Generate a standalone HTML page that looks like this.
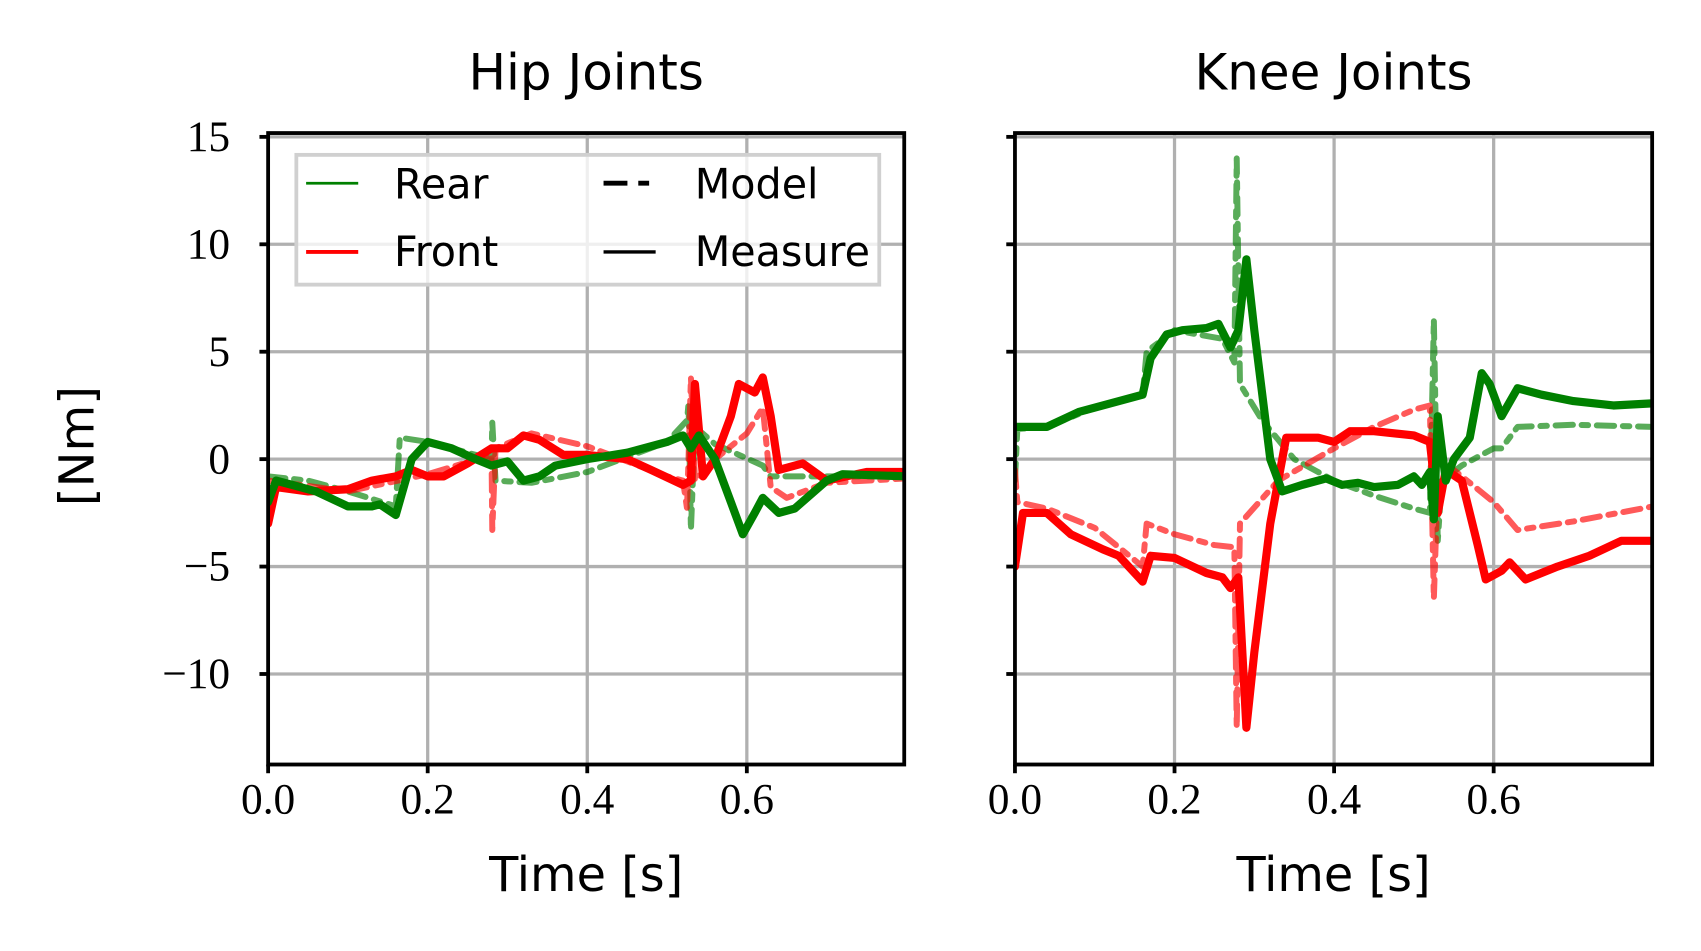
<!DOCTYPE html>
<html><head><meta charset="utf-8"><style>
html,body{margin:0;padding:0;background:#fff;}
svg{display:block;}
.tk{font-family:"Liberation Serif",serif;fill:#000;}
.sn{font-family:"DejaVu Sans","Liberation Sans",sans-serif;fill:#000;}
</style></head><body>
<svg id="s" width="1701" height="951" viewBox="0 0 1567 872" preserveAspectRatio="none" xmlns="http://www.w3.org/2000/svg">
<rect width="1567" height="872" fill="#fff"/>
<g id="g"></g>
</svg>
<script>
const NS="http://www.w3.org/2000/svg";const G=document.getElementById('g');
function el(t,a,txt,par){const e=document.createElementNS(NS,t);for(const k in a)e.setAttribute(k,a[k]);if(txt!==undefined&&txt!==null)e.textContent=txt;(par||G).appendChild(e);return e;}
const Y=v=>421-19.7*v;
const panels=[{x0:247,x1:833,title:"Hip Joints"},{x0:935,x1:1522,title:"Knee Joints"}];
const data={
hip:{
rm:[[0,-2],[0.01,-1],[0.03,-1.2],[0.06,-1.5],[0.1,-2.2],[0.13,-2.2],[0.14,-2.1],[0.16,-2.6],[0.18,0],[0.2,0.8],[0.23,0.5],[0.26,0],[0.28,-0.3],[0.3,-0.1],[0.32,-1],[0.34,-0.8],[0.36,-0.3],[0.4,0],[0.45,0.3],[0.5,0.8],[0.52,1.1],[0.53,0.5],[0.54,1.1],[0.56,0],[0.58,-2],[0.595,-3.5],[0.61,-2.5],[0.62,-1.8],[0.64,-2.5],[0.66,-2.3],[0.7,-1],[0.72,-0.7],[0.8,-0.8]],
rd:[[0,-0.8],[0.05,-1],[0.1,-1.5],[0.16,-2.2],[0.165,1],[0.2,0.8],[0.28,0],[0.281,1.7],[0.285,-1],[0.33,-1.1],[0.4,-0.6],[0.5,0.8],[0.525,1.8],[0.527,2.6],[0.53,-3.3],[0.535,1.5],[0.56,0.7],[0.62,-0.3],[0.63,-0.8],[0.8,-0.8]],
fm:[[0,-3],[0.01,-1.3],[0.05,-1.5],[0.1,-1.4],[0.13,-1],[0.16,-0.8],[0.18,-0.5],[0.2,-0.8],[0.22,-0.8],[0.25,-0.2],[0.28,0.5],[0.3,0.5],[0.32,1.1],[0.34,0.9],[0.37,0.2],[0.4,0.2],[0.45,0],[0.48,-0.5],[0.52,-1.2],[0.53,-1],[0.535,3.5],[0.545,-0.8],[0.56,0],[0.58,2],[0.59,3.5],[0.61,3.1],[0.62,3.8],[0.63,2],[0.64,-0.5],[0.67,-0.2],[0.7,-1],[0.75,-0.6],[0.8,-0.6]],
fd:[[0,-1],[0.1,-1.5],[0.2,-0.7],[0.28,0.2],[0.281,-3.3],[0.285,0.5],[0.33,1.2],[0.4,0.6],[0.5,-0.8],[0.52,-1],[0.525,-2.3],[0.53,3.8],[0.535,-1],[0.56,0],[0.6,1.2],[0.62,2.4],[0.63,-1.3],[0.65,-1.8],[0.7,-1.1],[0.8,-0.9]]},
knee:{
rm:[[0,1.5],[0.04,1.5],[0.08,2.2],[0.12,2.6],[0.16,3],[0.17,4.7],[0.19,5.8],[0.21,6],[0.24,6.1],[0.255,6.3],[0.27,5.2],[0.28,6],[0.29,9.3],[0.3,6],[0.32,0],[0.335,-1.5],[0.36,-1.2],[0.39,-0.9],[0.41,-1.2],[0.43,-1.1],[0.45,-1.3],[0.48,-1.2],[0.5,-0.8],[0.51,-1.2],[0.52,-0.6],[0.525,-2.8],[0.53,2],[0.54,-1],[0.55,0],[0.57,1],[0.585,4],[0.595,3.5],[0.61,2],[0.63,3.3],[0.66,3],[0.7,2.7],[0.75,2.5],[0.8,2.6]],
rd:[[0,-1],[0.003,1.4],[0.04,1.5],[0.1,2.4],[0.16,3],[0.165,5],[0.2,6],[0.26,5.6],[0.275,4.5],[0.278,14],[0.282,3.5],[0.31,1.8],[0.35,0],[0.4,-1],[0.45,-1.7],[0.5,-2.3],[0.52,-2.5],[0.525,6.5],[0.53,-3.8],[0.535,-1],[0.56,-0.3],[0.6,0.5],[0.61,0.5],[0.63,1.5],[0.7,1.6],[0.8,1.5]],
fm:[[0,-5],[0.01,-2.5],[0.04,-2.5],[0.07,-3.5],[0.11,-4.2],[0.13,-4.5],[0.16,-5.7],[0.17,-4.5],[0.2,-4.6],[0.24,-5.3],[0.26,-5.5],[0.27,-6],[0.28,-5.5],[0.29,-12.5],[0.3,-9],[0.32,-3],[0.34,1],[0.38,1],[0.4,0.8],[0.42,1.3],[0.45,1.3],[0.5,1.1],[0.52,0.8],[0.53,-2.5],[0.54,-0.5],[0.56,-1],[0.58,-4],[0.59,-5.6],[0.61,-5.2],[0.62,-4.8],[0.64,-5.6],[0.68,-5],[0.72,-4.5],[0.76,-3.8],[0.8,-3.8]],
fd:[[0,-0.5],[0.003,-2],[0.04,-2.3],[0.1,-3.2],[0.16,-5],[0.165,-3],[0.2,-3.5],[0.25,-4],[0.275,-4.1],[0.278,-12.5],[0.282,-3],[0.33,-1],[0.4,0.5],[0.45,1.5],[0.5,2.3],[0.52,2.5],[0.525,-6.5],[0.53,-1],[0.55,-0.5],[0.6,-2],[0.63,-3.3],[0.7,-2.9],[0.8,-2.2]]}};
const keys=['hip','knee'];
const defs=el('defs',{});
panels.forEach((p,i)=>{
 const X=t=>p.x0+735*t;
 const cp=el('clipPath',{id:'c'+i},null,defs);
 el('rect',{x:p.x0,y:122,width:p.x1-p.x0,height:579},null,cp);
 [0.2,0.4,0.6].forEach(t=>el('line',{x1:X(t),x2:X(t),y1:122,y2:701,stroke:'#b0b0b0','stroke-width':3}));
 [15,10,5,0,-5,-10].forEach(v=>el('line',{x1:p.x0,x2:p.x1,y1:Y(v),y2:Y(v),stroke:'#b0b0b0','stroke-width':3}));
 const d=data[keys[i]];
 const path=(arr)=>arr.map((q,j)=>(j?'L':'M')+X(q[0]).toFixed(1)+' '+Y(q[1]).toFixed(1)).join('');
 const g=el('g',{'clip-path':`url(#c${i})`});
 const add=(arr,col,dash)=>{const a={d:path(arr),fill:'none',stroke:col,'stroke-width':dash?5.5:7.5,'stroke-linejoin':'round','stroke-linecap':'round'};if(dash){a['stroke-dasharray']='16 8 6 8';a.opacity='0.65';}el('path',a,null,g);};
 add(d.rd,'#008000',1);add(d.fd,'#ff0000',1);add(d.fm,'#ff0000',0);add(d.rm,'#008000',0);
 el('rect',{x:p.x0,y:122,width:p.x1-p.x0,height:579,fill:'none',stroke:'#000','stroke-width':3.5});
 [15,10,5,0,-5,-10].forEach(v=>{el('line',{x1:p.x0-8,x2:p.x0,y1:Y(v),y2:Y(v),stroke:'#000','stroke-width':3.5});
   if(i==0)el('text',{x:212,y:Y(v)+13,'text-anchor':'end',class:'tk','font-size':'40'},v<0?'\u2212'+(-v):String(v));});
 [0,0.2,0.4,0.6].forEach(t=>{el('line',{x1:X(t),x2:X(t),y1:701,y2:709,stroke:'#000','stroke-width':3.5});
   el('text',{x:X(t),y:746,'text-anchor':'middle',class:'tk','font-size':'40'},t.toFixed(1));});
 el('text',{x:(p.x0+p.x1)/2,y:82,'text-anchor':'middle',class:'sn','font-size':'46'},p.title);
 el('text',{x:(p.x0+p.x1)/2,y:817,'text-anchor':'middle',class:'sn','font-size':'44'},'Time [s]');
});
el('text',{x:0,y:0,transform:'translate(86,409) rotate(-90)','text-anchor':'middle',class:'sn','font-size':'44'},'[Nm]');
el('rect',{x:273,y:142,width:537,height:119,fill:'rgba(255,255,255,0.8)',stroke:'#d0d0d0','stroke-width':3.5});
el('line',{x1:282,x2:330,y1:168,y2:168,stroke:'#008000','stroke-width':2.5});
el('line',{x1:282,x2:330,y1:231,y2:231,stroke:'#ff0000','stroke-width':3.5});
el('line',{x1:556,x2:604,y1:168,y2:168,stroke:'#000','stroke-width':4.5,'stroke-dasharray':'22 10 10 10'});
el('line',{x1:556,x2:604,y1:231,y2:231,stroke:'#000','stroke-width':3});
el('text',{x:363,y:182,class:'sn','font-size':'38'},'Rear');
el('text',{x:363,y:244,class:'sn','font-size':'38'},'Front');
el('text',{x:640,y:182,class:'sn','font-size':'38'},'Model');
el('text',{x:640,y:244,class:'sn','font-size':'38'},'Measure');
</script>
</body></html>
